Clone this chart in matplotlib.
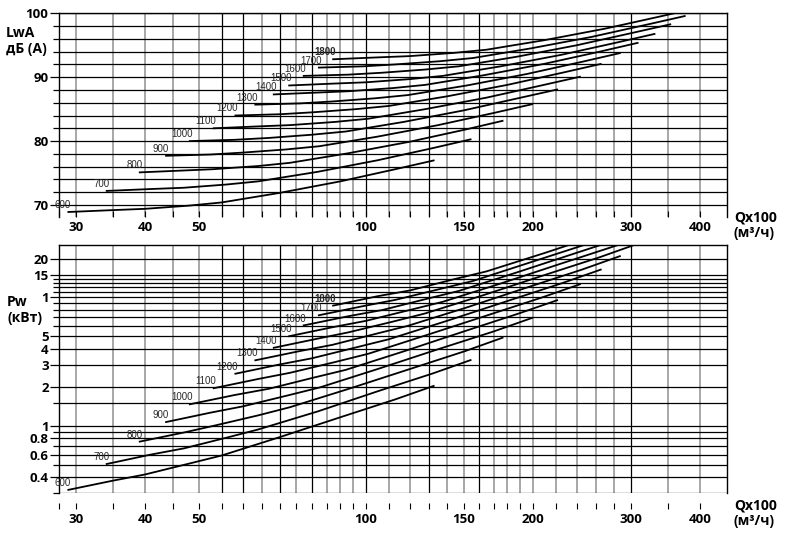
import matplotlib
matplotlib.use("Agg")
import matplotlib.pyplot as plt
from matplotlib.ticker import FixedLocator, FixedFormatter, NullFormatter

plt.rcParams['font.family'] = ['Open Sans', 'DejaVu Sans']

speeds = [600, 700, 800, 900, 1000, 1100, 1200, 1300, 1400, 1500, 1600, 1700, 1800]

# air flow Qx100 (m3/h)
flow = [
    [29, 35, 40, 48, 55, 70, 90, 113, 133],
    [34, 41, 47, 56, 64, 82, 105, 132, 155],
    [39, 47, 53, 64, 73, 93, 120, 151, 177],
    [43.5, 52.5, 60, 72, 82.5, 105, 135, 170, 200],
    [48, 58, 67, 80, 92, 117, 150, 188, 222],
    [53, 64, 73, 88, 101, 128, 165, 207, 244],
    [58, 70, 80, 96, 110, 140, 180, 226, 266],
    [63, 76, 87, 104, 119, 152, 195, 245, 288],
    [68, 82, 93, 112, 128, 163, 210, 264, 310],
    [72.5, 87.5, 100, 120, 137.5, 175, 225, 282.5, 332.5],
    [77, 93, 107, 128, 147, 187, 240, 301, 355],
    [82, 99, 113, 136, 156, 198, 255, 320, 377],
    [87, 105, 120, 144, 165, 210, 270, 339, 399],
]

# sound power LwA dB(A)
lwa = [
    [68.9, 69.2, 69.4, 69.9, 70.4, 71.9, 73.7, 75.6, 77.0],
    [72.2, 72.5, 72.7, 73.2, 73.7, 75.2, 77.0, 78.9, 80.3],
    [75.1, 75.4, 75.6, 76.1, 76.6, 78.1, 79.9, 81.8, 83.2],
    [77.7, 77.9, 78.2, 78.7, 79.2, 80.7, 82.5, 84.4, 85.8],
    [80.0, 80.2, 80.5, 81.0, 81.5, 83.0, 84.8, 86.7, 88.1],
    [82.0, 82.3, 82.5, 83.0, 83.5, 85.0, 86.8, 88.7, 90.1],
    [84.0, 84.2, 84.5, 85.0, 85.5, 87.0, 88.8, 90.7, 92.1],
    [85.7, 85.9, 86.2, 86.7, 87.2, 88.7, 90.5, 92.4, 93.8],
    [87.3, 87.6, 87.8, 88.3, 88.8, 90.3, 92.1, 94.0, 95.4],
    [88.7, 89.0, 89.2, 89.7, 90.2, 91.7, 93.5, 95.4, 96.8],
    [90.2, 90.4, 90.7, 91.2, 91.7, 93.2, 95.0, 96.9, 98.3],
    [91.5, 91.7, 92.0, 92.5, 93.0, 94.5, 96.3, 98.2, 99.6],
    [92.8, 93.1, 93.3, 93.8, 94.3, 95.8, 97.6, 99.5, 100.9],
]

# shaft power Pw (kW)
pw = [
    [0.318, 0.376, 0.42, 0.51, 0.59, 0.82, 1.17, 1.61, 2.06],
    [0.505, 0.60, 0.67, 0.81, 0.94, 1.30, 1.86, 2.56, 3.27],
    [0.754, 0.89, 1.0, 1.21, 1.40, 1.94, 2.77, 3.82, 4.88],
    [1.07, 1.27, 1.42, 1.72, 1.99, 2.77, 3.95, 5.43, 6.95],
    [1.47, 1.74, 1.95, 2.36, 2.73, 3.80, 5.42, 7.45, 9.54],
    [1.96, 2.32, 2.59, 3.14, 3.64, 5.05, 7.21, 9.92, 12.7],
    [2.54, 3.01, 3.36, 4.08, 4.72, 6.56, 9.36, 12.9, 16.5],
    [3.23, 3.82, 4.27, 5.19, 6.00, 8.34, 11.9, 16.4, 21.0],
    [4.04, 4.78, 5.34, 6.48, 7.50, 10.4, 14.9, 20.5, 26.2],
    [4.97, 5.88, 6.56, 7.97, 9.22, 12.8, 18.3, 25.2, 32.2],
    [6.03, 7.13, 7.96, 9.67, 11.2, 15.6, 22.2, 30.5, 39.1],
    [7.23, 8.55, 9.55, 11.6, 13.4, 18.7, 26.6, 36.6, 46.9],
    [8.59, 10.2, 11.3, 13.8, 15.9, 22.1, 31.6, 43.5, 55.6],
]

q_ticks = [30, 40, 50, 100, 150, 200, 300, 400]
q_grid = [30, 35, 40, 45, 50, 55, 60, 65, 70, 75, 80, 85, 90, 95, 100,
          110, 120, 130, 140, 150, 160, 170, 180, 190, 200,
          220, 240, 260, 280, 300, 350, 400]
q_dark = [55, 60, 70, 80, 100, 130, 160, 300]

lwa_ticks = [70, 80, 90, 100]
lwa_grid = [70, 72, 74, 76, 78, 80, 82, 84, 86, 88, 90, 92, 94, 96, 98, 100]

pw_ticks = [0.4, 0.6, 0.8, 1, 2, 3, 4, 5, 10, 15, 20]
pw_labels = ["0.4", "0.6", "0.8", "1", "2", "3", "4", "5", "1", "15", "20"]
pw_grid = [0.3, 0.4, 0.5, 0.6, 0.7, 0.8, 0.9, 1, 1.5, 2, 3, 4, 5, 6, 7, 8, 9,
           10, 11, 12, 13, 14, 15, 20]

W, H = 787, 542
fig = plt.figure(figsize=(W / 100, H / 100), dpi=100)
fig.patch.set_facecolor('white')

def frac(x0, x1, ytop, ybot):
    return [x0 / W, 1 - ybot / H, (x1 - x0) / W, (ybot - ytop) / H]

ax1 = fig.add_axes(frac(59, 727, 13.3, 216.5))
ax2 = fig.add_axes(frac(59, 727, 245, 493.3))

TICK_FS = 9.5

for ax in (ax1, ax2):
    ax.set_xscale('log')
    ax.set_xlim(28.0, 447.6)
    for q in q_grid:
        if q in q_dark:
            ax.axvline(q, color='black', lw=0.9, zorder=1)
        else:
            ax.axvline(q, color='#a0a0a0', lw=1.3, zorder=1)
    ax.xaxis.set_major_locator(FixedLocator(q_ticks))
    ax.xaxis.set_major_formatter(FixedFormatter([str(q) for q in q_ticks]))
    ax.xaxis.set_minor_locator(FixedLocator([28.0] + [q for q in q_grid if q not in q_ticks]))
    ax.xaxis.set_minor_formatter(NullFormatter())
    ax.spines['bottom'].set_visible(False)
    for s in ('left', 'right', 'top'):
        ax.spines[s].set_linewidth(1.0)

# ---- top: sound power
ax1.set_ylim(68.2, 100)
for v in lwa_grid:
    ax1.axhline(v, color='black', lw=0.9, zorder=1)
ax1.yaxis.set_major_locator(FixedLocator(lwa_ticks))
ax1.yaxis.set_minor_locator(FixedLocator([v for v in lwa_grid if v not in lwa_ticks]))
ax1.yaxis.set_minor_formatter(NullFormatter())
ax1.tick_params(axis='x', which='both', direction='in', length=4.5, width=0.8, pad=3.5, labelsize=TICK_FS)
ax1.tick_params(axis='y', which='major', length=6.5, width=0.9, pad=1, labelsize=TICK_FS)
ax1.tick_params(axis='y', which='minor', length=4, width=0.9)

# ---- bottom: shaft power
ax2.set_yscale('log')
ax2.set_ylim(0.3, 25.5)
for v in pw_grid:
    ax2.axhline(v, color='black', lw=0.9, zorder=1)
ax2.yaxis.set_major_locator(FixedLocator(pw_ticks))
ax2.yaxis.set_major_formatter(FixedFormatter(pw_labels))
ax2.yaxis.set_minor_locator(FixedLocator([v for v in pw_grid if v not in pw_ticks]))
ax2.yaxis.set_minor_formatter(NullFormatter())
ax2.spines['bottom'].set_position(('outward', 7))
ax2.tick_params(axis='x', which='both', direction='out', length=4, width=0.8, pad=3.5, labelsize=TICK_FS)
ax2.tick_params(axis='y', which='major', length=6.5, width=0.9, pad=1, labelsize=TICK_FS)
ax2.tick_params(axis='y', which='minor', length=4, width=0.9)

for ax in (ax1, ax2):
    for lab in ax.get_xticklabels() + ax.get_yticklabels():
        lab.set_fontweight('bold')

# curves and speed labels
for ax, vals in ((ax1, lwa), (ax2, pw)):
    for n, q, v in zip(speeds, flow, vals):
        ax.plot(q, v, color='black', lw=1.3, zorder=3, solid_capstyle='butt',
                solid_joinstyle='round')
        ax.annotate(str(n), (q[0], v[0]), xytext=(2.5, 1.5), textcoords='offset points',
                    ha='right', va='bottom', fontsize=7, color='#2a2a2a',
                    family=['Liberation Sans Narrow', 'Liberation Sans'],
                    fontweight='bold' if n == 1800 else 'normal',
                    annotation_clip=False, zorder=4)

lab_font = dict(fontsize=10, fontweight='bold', ha='left', va='top', linespacing=1.15)
fig.text(6 / W, 1 - 26 / H, "LwA\nдБ (A)", **lab_font)
fig.text(7 / W, 1 - 295 / H, "Pw\n(кВт)", **lab_font)
fig.text(734 / W, 1 - 210 / H, "Qx100\n(м³/ч)", **lab_font)
fig.text(734 / W, 1 - 498 / H, "Qx100\n(м³/ч)", **lab_font)

fig.savefig("out.png", dpi=100)
